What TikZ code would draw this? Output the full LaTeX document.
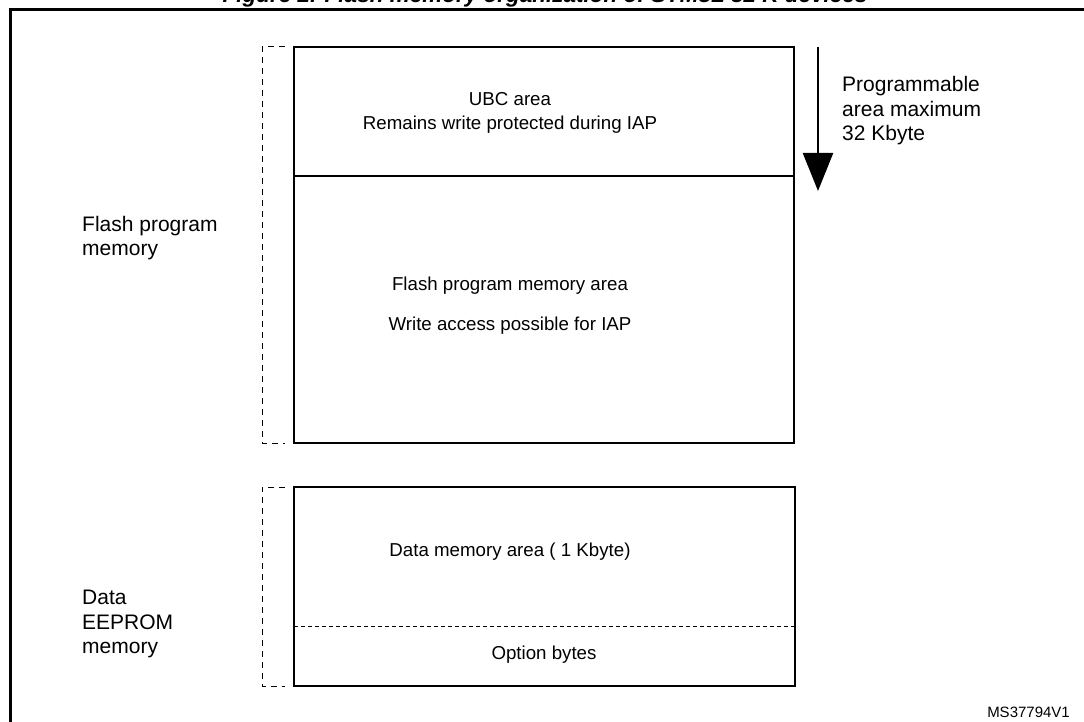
\documentclass[tikz,border=0pt]{standalone}
\usepackage{fontspec}
\setmainfont{Liberation Sans}
\usetikzlibrary{arrows.meta}

\begin{document}
\begin{tikzpicture}[x=1pt,y=-1pt,
    area/.style={draw, line width=1.3pt},
    bracket/.style={line width=1pt, dash pattern=on 6pt off 5pt},
    txt/.style={font=\fontsize{18.7}{24}\selectfont, align=center, inner sep=0pt},
    lbl/.style={font=\fontsize{21}{24.5}\selectfont, align=left, anchor=west, inner sep=0pt}]
    \useasboundingbox (0,0) rectangle (1084,722);
    \clip (0,0) rectangle (1084,722);

    %TITEL
    \node[font=\fontsize{22.5}{26}\selectfont\bfseries\itshape, anchor=base, inner sep=0pt] (title) at (545,3)
        {Figure 2. Flash memory organization of STM8L 32 K devices};
    \draw[line width=3pt] (1084,10) -| (10,722);

    %FLASH
    \draw[bracket] (285,47) -| (262,443) -- (285,443);
    \draw[area] (294,47) rectangle (794,443);
    \draw[area] (294,176) -- (794,176);
    \node[txt] (ubc) at (510,113) {UBC area\\Remains write protected during IAP};
    \node[txt] (flasharea) at (510,286) {Flash program memory area};
    \node[txt] (writeacc) at (510,326) {Write access possible for IAP};
    \node[lbl] (flashlbl) at (82,238) {Flash program\\memory};

    %PFEIL
    \coordinate (pstart) at (818,47);
    \coordinate (pend) at (818,191);
    \draw[line width=2.3pt, -{Triangle[width=30pt,length=38pt]}] (pstart) -- (pend);
    \node[lbl] (prog) at (842,111) {Programmable\\area maximum\\32 Kbyte};

    %EEPROM
    \draw[bracket] (285,487) -| (262,686) -- (285,686);
    \draw[area] (294,487) rectangle (795,686);
    \draw[line width=1pt, dash pattern=on 4pt off 3pt] (294,626) -- (795,626);
    \node[txt] (dataarea) at (510,552) {Data memory area ( 1 Kbyte)};
    \node[txt] (optbytes) at (544,655) {Option bytes};
    \node[lbl] (datalbl) at (82,624) {Data\\EEPROM\\memory};

    \node[font=\fontsize{15}{18}\selectfont, anchor=east, inner sep=0pt] (ms) at (1070,712) {MS37794V1};
\end{tikzpicture}
\end{document}
